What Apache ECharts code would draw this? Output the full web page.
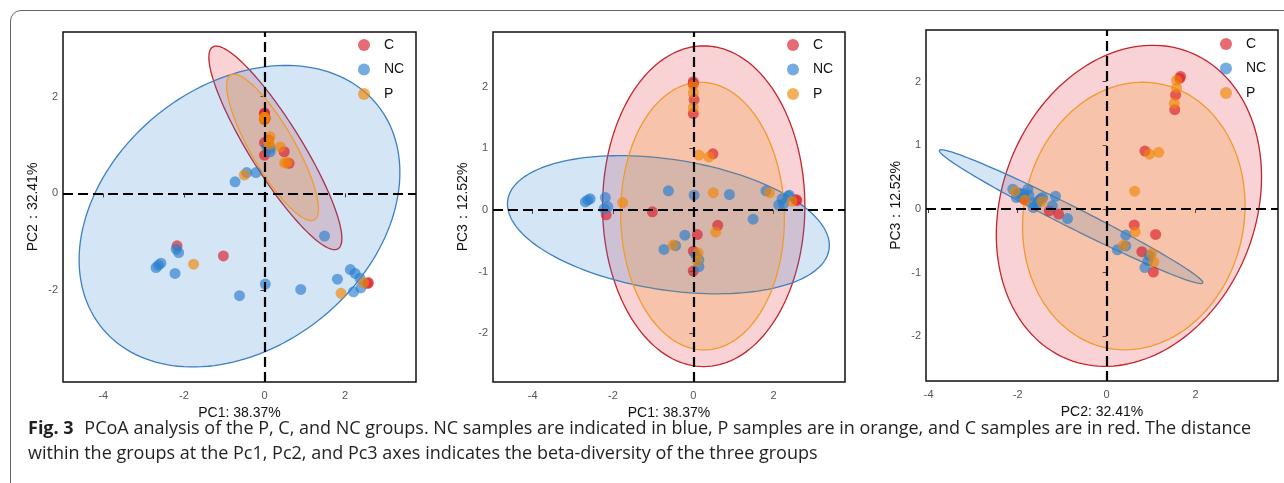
<!DOCTYPE html>
<html>
<head>
<meta charset="utf-8">
<script src="https://cdn.jsdelivr.net/npm/echarts@6/dist/echarts.min.js"></script>
<style>
body{margin:0;background:#fff;}
#wrap{position:relative;width:1284px;height:483px;overflow:hidden;background:#fff;}
#frame{position:absolute;left:10px;top:10px;width:1320px;height:520px;border:1px solid #666;border-radius:11px;}
#main{position:absolute;left:0;top:0;width:1284px;height:483px;}
#cap{position:absolute;left:28px;top:415px;font-family:'Open Sans';font-size:18px;line-height:25px;color:#231f20;white-space:nowrap;letter-spacing:0px;}
#cap b{font-weight:700;margin-right:6px;}
</style>
</head>
<body>
<div id="wrap">
<div id="frame"></div>
<div id="main"></div>
<div id="cap"><b>Fig. 3</b> PCoA analysis of the P, C, and NC groups. NC samples are indicated in blue, P samples are in orange, and C samples are in red. The distance<br>within the groups at the Pc1, Pc2, and Pc3 axes indicates the beta-diversity of the three groups</div>
</div>
<script>
// groups and colours
var groups = ['C', 'NC', 'P'];
var colors = ['#DA1C2A', '#2A7ED0', '#F18605'];
var edgeColors = ['#C4262E', '#3C7FC4', '#F19A2E'];

// sample coordinates (PC1, PC2, PC3)
var cPC1 = [0.00, 0.00, 0.02, 0.00, 0.49, 0.61, 0.10, 0.00, 0.00, -2.17, -1.02, 2.56, 2.58];
var cPC2 = [1.66, 1.64, 1.55, 1.53, 0.86, 0.62, 1.10, 0.79, 1.05, -1.08, -1.29, -1.86, -1.84];
var cPC3 = [2.08, 2.05, 1.79, 1.56, 0.91, -0.25, -0.40, -0.67, -0.99, -0.08, -0.03, 0.17, 0.15];

var ncPC1 = [0.06, 0.14, 0.14, -0.73, -0.44, -0.21, -2.19, -2.13, -2.63, -2.57, -2.69, -2.22, 1.49, 0.02, -0.62, 0.90, 1.81, 2.13, 2.25, 2.37, 2.39, 2.21];
var ncPC2 = [0.96, 0.93, 0.86, 0.24, 0.43, 0.43, -1.15, -1.22, -1.48, -1.44, -1.53, -1.65, -0.88, -1.87, -2.11, -1.98, -1.77, -1.57, -1.65, -1.75, -1.95, -2.03];
var ncPC3 = [-0.73, -0.81, -0.92, -0.64, -0.58, -0.41, 0.20, 0.05, 0.16, 0.18, 0.13, 0.02, -0.15, 0.24, 0.31, 0.25, 0.31, 0.08, 0.10, 0.22, 0.24, 0.18];

var pPC1 = [0.00, 0.00, 0.00, 0.39, 0.14, -0.50, 0.56, 0.50, -1.76, 2.46, 1.90, 0.12, 0.10];
var pPC2 = [1.57, 1.57, 1.52, 0.96, 1.17, 0.38, 0.64, 0.63, -1.46, -1.84, -2.06, 1.01, 1.06];
var pPC3 = [2.02, 1.90, 1.66, 0.86, 0.89, -0.57, -0.36, 0.28, 0.12, 0.14, 0.28, -0.70, -0.83];

// ellipses per panel: [centre x, centre y, half width, half height, correlation]
var ellP1 = [[0.27, 0.94, 1.65, 2.10, -0.89], [-0.62, -0.47, 3.98, 3.11, 0.29], [0.20, 0.95, 1.14, 1.51, -0.84]];
var ellP2 = [[0.26, 0.06, 2.52, 2.60, 0.00], [-0.62, -0.24, 4.01, 1.12, -0.30], [0.23, -0.10, 2.04, 2.17, -0.02]];
var ellP3 = [[0.50, 0.05, 2.98, 2.52, 0.18], [-0.80, -0.12, 2.96, 1.05, -0.985], [0.61, -0.11, 2.50, 2.10, 0.08]];

// axis ranges and ticks
var xRanges = [[-5.0, 3.76], [-4.99, 3.78], [-4.06, 3.85]];
var yRanges = [[-3.89, 3.33], [-2.79, 2.885], [-2.70, 2.81]];
var xTicks = [[-4, -2, 0, 2], [-4, -2, 0, 2], [-4, -2, 0, 2]];
var yTicks = [[-2, 0, 2], [-2, -1, 0, 1, 2], [-2, -1, 0, 1, 2]];
var xNames = ['PC1: 38.37%', 'PC1: 38.37%', 'PC2: 32.41%'];
var yNames = ['PC2：32.41%', 'PC3：12.52%', 'PC3：12.52%'];

var grids = [
    {left: 63, top: 32, width: 353, height: 350},
    {left: 493, top: 32, width: 352, height: 350},
    {left: 926, top: 30, width: 352, height: 351}
];
var legendPos = [[353, 33], [782, 33], [1215, 32]];

var samples = {
    C: [cPC1, cPC2, cPC3],
    NC: [ncPC1, ncPC2, ncPC3],
    P: [pPC1, pPC2, pPC3]
};
var panelDims = [[0, 1], [0, 2], [1, 2]];
var ellipses = [ellP1, ellP2, ellP3];

function rgba(hex, a) {
    var r = parseInt(hex.slice(1, 3), 16), g = parseInt(hex.slice(3, 5), 16), b = parseInt(hex.slice(5, 7), 16);
    return 'rgba(' + r + ',' + g + ',' + b + ',' + a + ')';
}

function ellipseSeries(e, idx, gi) {
    return {
        type: 'custom',
        name: groups[gi] + ' ellipse',
        xAxisIndex: idx,
        yAxisIndex: idx,
        silent: true,
        z: 1 + gi * 0.1,
        data: [[e[0], e[1]]],
        renderItem: function (params, api) {
            var pts = [];
            var s = Math.sqrt(1 - e[4] * e[4]);
            for (var k = 0; k <= 160; k++) {
                var t = k / 160 * 2 * Math.PI;
                pts.push(api.coord([e[0] + e[2] * Math.cos(t), e[1] + e[3] * (e[4] * Math.cos(t) + s * Math.sin(t))]));
            }
            return {
                type: 'polygon',
                shape: {points: pts},
                style: {fill: rgba(colors[gi], 0.2), stroke: edgeColors[gi], lineWidth: 1.3}
            };
        }
    };
}

var xAxes = [], yAxes = [], series = [], legends = [];
for (var i = 0; i < 3; i++) {
    xAxes.push({
        gridIndex: i, type: 'value', min: xRanges[i][0], max: xRanges[i][1],
        name: xNames[i], nameLocation: 'middle', nameGap: 23,
        nameTextStyle: {fontFamily: 'Liberation Sans', fontSize: 14, color: '#111'},
        axisLine: {show: false},
        splitLine: {show: false},
        axisTick: {show: true, length: 4, lineStyle: {color: '#333', width: 1}, customValues: xTicks[i]},
        axisLabel: {customValues: xTicks[i], color: '#555', fontSize: 11, margin: 8, fontFamily: 'Liberation Sans'}
    });
    yAxes.push({
        gridIndex: i, type: 'value', min: yRanges[i][0], max: yRanges[i][1],
        name: yNames[i], nameLocation: 'middle', nameGap: 23, nameRotate: 90,
        nameTextStyle: {fontFamily: 'Liberation Sans', fontSize: 14, color: '#111'},
        axisLine: {show: false},
        splitLine: {show: false},
        axisTick: {show: true, length: 4, lineStyle: {color: '#333', width: 1}, customValues: yTicks[i]},
        axisLabel: {customValues: yTicks[i], color: '#555', fontSize: 11, margin: 5, fontFamily: 'Liberation Sans'}
    });
    for (var g = 0; g < 3; g++) {
        series.push(ellipseSeries(ellipses[i][g], i, g));
    }
    series.push({
        type: 'line', name: 'zero', xAxisIndex: i, yAxisIndex: i, data: [], silent: true, z: 2,
        markLine: {
            silent: true, symbol: ['none', 'none'], label: {show: false}, animation: false,
            lineStyle: {color: '#000', type: [10, 5], width: 2.2},
            data: [{xAxis: 0}, {yAxis: 0}]
        }
    });
    for (var g2 = 0; g2 < 3; g2++) {
        var d = samples[groups[g2]];
        var a = d[panelDims[i][0]], b = d[panelDims[i][1]];
        var pts = [];
        for (var k = 0; k < a.length; k++) pts.push([a[k], b[k]]);
        series.push({
            type: 'scatter', name: groups[g2], xAxisIndex: i, yAxisIndex: i, z: 3,
            symbolSize: 11, data: pts,
            itemStyle: {color: colors[g2], opacity: 0.65}
        });
    }
    legends.push({
        data: groups, orient: 'vertical', left: legendPos[i][0], top: legendPos[i][1],
        itemWidth: 30, itemHeight: 12, itemGap: 10.5, icon: 'circle', selectedMode: false,
        textStyle: {fontFamily: 'Liberation Sans', fontSize: 14, color: '#111'}
    });
}

var chart = echarts.init(document.getElementById('main'));
chart.setOption({
    animation: false,
    grid: grids.map(function (gr) {
        return {left: gr.left, top: gr.top, width: gr.width, height: gr.height, show: true, borderColor: '#111', borderWidth: 1.5, backgroundColor: 'transparent'};
    }),
    legend: legends,
    xAxis: xAxes,
    yAxis: yAxes,
    series: series
});
</script>
</body>
</html>
